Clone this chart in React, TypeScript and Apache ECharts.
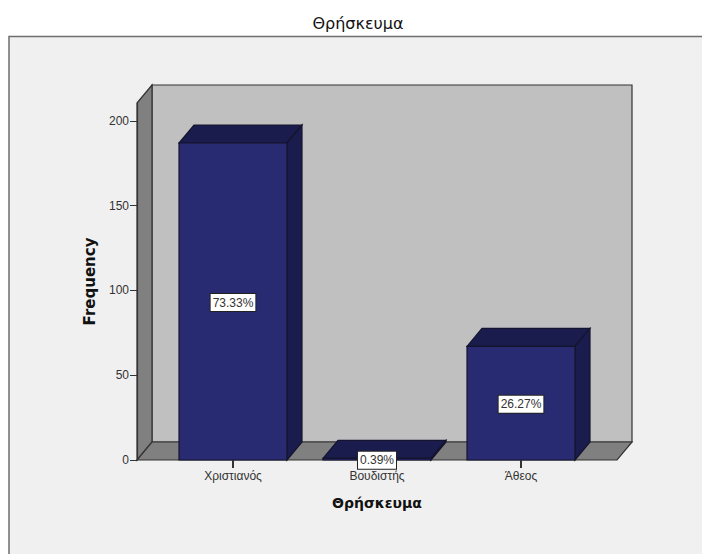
import React, { useEffect, useRef } from "react";
import * as echarts from "echarts";

const categories = ["Χριστιανός", "Βουδιστής", "Άθεος"];
const frequencies = [187, 1, 67];
const percentLabels = ["73.33%", "0.39%", "26.27%"];
const yTicks = [0, 50, 100, 150, 200];
const chartTitle = "Θρήσκευμα";
const xName = "Θρήσκευμα";
const yName = "Frequency";

const DX = 15;
const DY = 18;
const INSET = 24;
const TICK = 8;
const EDGE = "#14142e";
const WALL_EDGE = "#333333";

function renderWalls(params: any) {
  const c = params.coordSys;
  const l = c.x - INSET;
  const r = c.x + c.width + INSET;
  const t = c.y;
  const b = c.y + c.height;
  const edge = { stroke: WALL_EDGE, lineWidth: 1.2 };
  return {
    type: "group",
    children: [
      { type: "polygon", shape: { points: [[l + DX, t - DY], [r + DX, t - DY], [r + DX, b - DY], [l + DX, b - DY]] }, style: { fill: "#c0c0c0", ...edge } },
      { type: "polygon", shape: { points: [[l, t], [l + DX, t - DY], [l + DX, b - DY], [l, b]] }, style: { fill: "#808080", ...edge } },
      { type: "polygon", shape: { points: [[l, b], [l + DX, b - DY], [r + DX, b - DY], [r, b]] }, style: { fill: "#808080", ...edge } },
    ],
  };
}

function renderBar(params: any, api: any) {
  const idx = api.value(0);
  const top = api.coord([idx, api.value(1)]);
  const base = api.coord([idx, 0]);
  const w = api.size([1, 0])[0] * 0.75;
  const x0 = top[0] - w / 2;
  const x1 = top[0] + w / 2;
  const y0 = top[1];
  const y1 = base[1];
  const edge = { stroke: EDGE, lineWidth: 1.2 };
  return {
    type: "group",
    children: [
      { type: "polygon", shape: { points: [[x0, y0], [x1, y0], [x1 + DX, y0 - DY], [x0 + DX, y0 - DY]] }, style: { fill: "#1a1c4e", ...edge } },
      { type: "polygon", shape: { points: [[x1, y0], [x1 + DX, y0 - DY], [x1 + DX, y1 - DY], [x1, y1]] }, style: { fill: "#1a1c4e", ...edge } },
      { type: "rect", shape: { x: x0, y: y0, width: w, height: y1 - y0 }, style: { fill: "#282a72", ...edge } },
      {
        type: "rect",
        z2: 5,
        shape: { x: top[0] - 1, y: y1, width: 2, height: TICK },
        style: { fill: "#333333" },
      },
      {
        type: "text",
        z2: 10,
        style: {
          text: percentLabels[idx],
          x: top[0],
          y: (y0 + y1) / 2 + 1,
          align: "center",
          verticalAlign: "middle",
          fontFamily: "Liberation Sans",
          fontSize: 12,
          fill: "#333333",
          backgroundColor: "#ffffff",
          borderColor: "#222222",
          borderWidth: 1,
          padding: [3, 2, 2, 2],
        },
      },
    ],
  };
}

export default function App() {
  const ref = useRef<HTMLDivElement>(null);
  useEffect(() => {
    const chart = echarts.init(ref.current!, null, { renderer: "svg" });
    chart.setOption({
      animation: false,
      backgroundColor: "#ffffff",
      tooltip: { show: false },
      title: {
        text: chartTitle,
        left: 358,
        top: 15,
        textAlign: "center",
        textVerticalAlign: "top",
        textStyle: { fontFamily: "DejaVu Sans", fontSize: 16, fontWeight: "normal", color: "#111111" },
        padding: 0,
      },
      graphic: {
        elements: [
          { type: "rect", z: -10, shape: { x: 9, y: 36.5, width: 720, height: 540 }, style: { fill: "#f0f0f0", stroke: "#6e6e6e", lineWidth: 1.5 } },
        ],
      },
      grid: { left: 161, right: 109, top: 103, bottom: 94 },
      xAxis: {
        type: "category",
        data: categories,
        z: 2,
        name: xName,
        nameLocation: "middle",
        nameGap: 36,
        nameTextStyle: { fontFamily: "DejaVu Sans", fontSize: 14, fontWeight: "bold", color: "#111111" },
        axisLine: { show: false },
        axisTick: { show: false },
        axisLabel: { fontFamily: "Liberation Sans", fontSize: 12, color: "#333333", margin: 10 },
      },
      yAxis: {
        type: "value",
        min: 0,
        max: 210.6,
        offset: INSET,
        z: 5,
        name: yName,
        nameLocation: "middle",
        nameGap: 40,
        nameTextStyle: { fontFamily: "DejaVu Sans", fontSize: 15, fontWeight: "bold", color: "#111111" },
        splitLine: { show: false },
        axisLine: { show: true, lineStyle: { color: "#333333", width: 1.2 } },
        axisTick: { show: true, length: 7, customValues: yTicks, lineStyle: { color: "#333333", width: 1 } },
        axisLabel: { fontFamily: "Liberation Sans", fontSize: 12, color: "#333333", margin: 8, customValues: yTicks },
      },
      series: [
        {
          type: "custom",
          silent: true,
          z: 1,
          renderItem: renderWalls,
          data: [[0, 0]],
        },
        {
          type: "custom",
          silent: true,
          z: 3,
          renderItem: renderBar,
          encode: { x: 0, y: 1 },
          data: frequencies.map((v, i) => [i, v]),
        },
      ],
    });
    return () => chart.dispose();
  }, []);
  return <div ref={ref} style={{ position: "absolute", left: 0, top: 0, width: 702, height: 554 }} />;
}
